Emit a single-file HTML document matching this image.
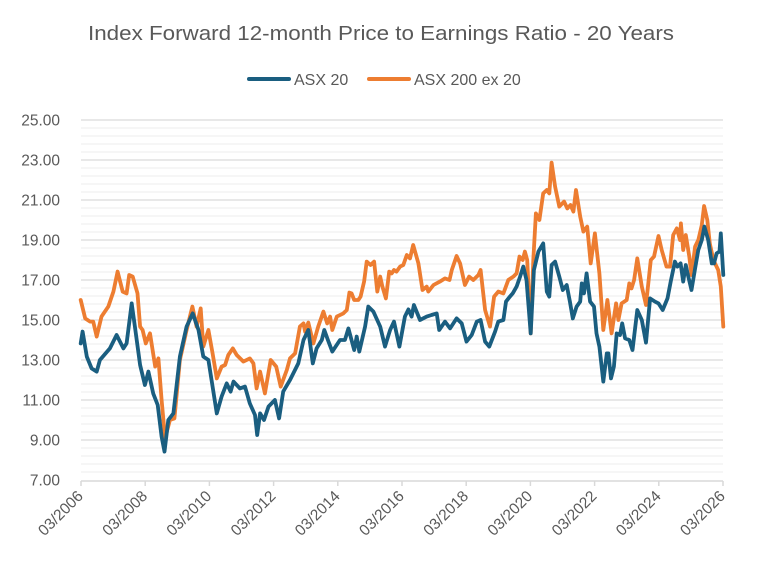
<!DOCTYPE html>
<html><head><meta charset="utf-8"><style>
html,body{margin:0;padding:0;background:#fff;width:763px;height:567px;overflow:hidden}
svg{display:block;font-family:"Liberation Sans",sans-serif}
</style></head><body>
<svg id="chart" width="763" height="567" viewBox="0 0 763 567" xmlns="http://www.w3.org/2000/svg">
<text x="381" y="40" text-anchor="middle" font-size="20.5" textLength="586" lengthAdjust="spacingAndGlyphs" fill="#595959">Index Forward 12-month Price to Earnings Ratio - 20 Years</text>
<g>
<line x1="249" y1="79" x2="289" y2="79" stroke="#1a5e80" stroke-width="4" stroke-linecap="round"/>
<text x="294" y="85" font-size="16" fill="#595959">ASX 20</text>
<line x1="369" y1="79" x2="409" y2="79" stroke="#ed7d31" stroke-width="4" stroke-linecap="round"/>
<text x="414" y="85" font-size="16" fill="#595959">ASX 200 ex 20</text>
</g>
<g id="grid"></g>
<g id="yaxis"></g>
<g id="xaxis"></g>
<g id="series"></g>
</svg>
<script>
const yTicks = [7,9,11,13,15,17,19,21,23,25];
const yTickLabels = ["7.00","9.00","11.00","13.00","15.00","17.00","19.00","21.00","23.00","25.00"];
const xTickYears = [2006.17,2008.17,2010.17,2012.17,2014.17,2016.17,2018.17,2020.17,2022.17,2024.17,2026.17];
const xTickLabels = ["03/2006","03/2008","03/2010","03/2012","03/2014","03/2016","03/2018","03/2020","03/2022","03/2024","03/2026"];

const asx20Dates = [2006.16,2006.22,2006.35,2006.50,2006.66,2006.76,2007.07,2007.28,2007.49,2007.59,2007.75,2007.85,2008.01,2008.16,2008.27,2008.42,2008.56,2008.68,2008.77,2008.89,2009.05,2009.25,2009.46,2009.65,2009.83,2009.98,2010.14,2010.40,2010.55,2010.71,2010.83,2010.92,2011.12,2011.28,2011.43,2011.59,2011.66,2011.75,2011.87,2012.01,2012.21,2012.34,2012.47,2012.68,2012.94,2013.10,2013.25,2013.39,2013.51,2013.67,2013.75,2013.88,2014.00,2014.24,2014.39,2014.50,2014.68,2014.76,2014.84,2015.02,2015.12,2015.28,2015.49,2015.64,2015.80,2015.92,2016.09,2016.26,2016.37,2016.47,2016.54,2016.73,2016.94,2017.09,2017.25,2017.33,2017.51,2017.67,2017.87,2018.03,2018.18,2018.34,2018.50,2018.62,2018.76,2018.89,2019.07,2019.17,2019.33,2019.41,2019.53,2019.62,2019.74,2019.85,2019.95,2020.05,2020.18,2020.28,2020.42,2020.57,2020.68,2020.76,2020.83,2020.94,2021.07,2021.18,2021.30,2021.40,2021.49,2021.61,2021.72,2021.77,2021.84,2021.92,2022.03,2022.15,2022.23,2022.32,2022.44,2022.55,2022.60,2022.68,2022.77,2022.86,2022.96,2023.03,2023.12,2023.25,2023.35,2023.50,2023.64,2023.77,2023.90,2024.05,2024.16,2024.29,2024.44,2024.54,2024.67,2024.75,2024.85,2024.93,2025.01,2025.09,2025.19,2025.30,2025.40,2025.51,2025.59,2025.71,2025.82,2025.89,2025.97,2026.06,2026.10,2026.18];
const asx20Values = [13.83,14.42,13.17,12.58,12.42,13.0,13.58,14.25,13.58,13.83,15.83,14.67,12.75,11.75,12.42,11.33,10.75,9.17,8.42,10.0,10.33,13.17,14.67,15.33,14.5,13.17,13.0,10.33,11.17,11.83,11.42,11.92,11.58,11.67,10.83,10.25,9.25,10.33,10.0,10.67,11.0,10.08,11.42,12.0,12.83,14.0,14.5,12.83,13.58,14.0,14.5,13.92,13.42,14.0,14.0,14.58,13.5,14.17,13.42,14.67,15.67,15.42,14.67,13.67,14.5,14.92,13.67,15.17,15.53,15.17,15.75,15.0,15.17,15.25,15.33,14.5,14.92,14.58,15.08,14.83,13.92,14.25,14.92,15.0,13.92,13.67,14.42,14.92,15.0,15.92,16.17,16.33,16.67,17.17,17.67,17.0,14.33,17.5,18.42,18.83,16.42,16.17,17.75,17.92,17.17,16.5,16.75,15.92,15.08,15.67,15.92,16.83,16.33,17.33,15.92,15.67,14.33,13.67,11.92,13.33,13.33,12.08,12.67,14.33,14.25,14.83,14.08,14.0,13.5,15.5,15.0,13.87,16.08,15.92,15.83,15.5,16.08,16.92,17.92,17.67,17.83,16.92,17.75,17.17,16.5,17.58,18.5,19.0,19.67,19.0,17.83,17.83,18.33,18.42,19.33,17.25];

const asx200ex20Dates = [2006.16,2006.30,2006.45,2006.55,2006.66,2006.81,2007.02,2007.18,2007.31,2007.47,2007.59,2007.67,2007.78,2007.93,2008.01,2008.09,2008.19,2008.32,2008.48,2008.58,2008.68,2008.79,2008.94,2009.08,2009.25,2009.46,2009.64,2009.77,2009.90,2009.98,2010.14,2010.27,2010.40,2010.55,2010.66,2010.76,2010.90,2011.02,2011.23,2011.43,2011.54,2011.64,2011.75,2011.90,2012.08,2012.25,2012.39,2012.58,2012.68,2012.84,2012.99,2013.10,2013.15,2013.25,2013.41,2013.56,2013.72,2013.84,2013.93,2014.00,2014.14,2014.34,2014.45,2014.53,2014.60,2014.68,2014.81,2014.88,2014.99,2015.07,2015.19,2015.30,2015.40,2015.49,2015.56,2015.67,2015.77,2015.85,2015.92,2016.00,2016.11,2016.21,2016.32,2016.42,2016.52,2016.68,2016.81,2016.94,2016.99,2017.15,2017.35,2017.51,2017.65,2017.72,2017.87,2017.98,2018.13,2018.26,2018.39,2018.55,2018.62,2018.76,2018.91,2019.04,2019.17,2019.33,2019.48,2019.64,2019.74,2019.83,2019.93,2020.00,2020.07,2020.18,2020.26,2020.34,2020.45,2020.57,2020.68,2020.76,2020.83,2020.94,2021.07,2021.22,2021.32,2021.42,2021.51,2021.59,2021.72,2021.82,2021.94,2022.05,2022.18,2022.32,2022.44,2022.57,2022.70,2022.84,2022.91,2023.01,2023.17,2023.25,2023.32,2023.40,2023.50,2023.64,2023.77,2023.92,2024.02,2024.16,2024.26,2024.41,2024.52,2024.62,2024.73,2024.83,2024.86,2024.93,2025.01,2025.12,2025.19,2025.30,2025.40,2025.51,2025.58,2025.68,2025.76,2025.87,2026.02,2026.10,2026.18];
const asx200ex20Values = [16.0,15.08,14.92,14.92,14.17,15.17,15.67,16.42,17.42,16.42,16.33,17.25,17.17,16.33,14.67,14.5,13.83,14.33,12.67,13.08,11.0,9.08,10.0,10.08,13.0,14.5,15.67,14.67,15.58,13.67,14.5,13.33,12.08,12.67,12.75,13.25,13.58,13.25,12.92,13.08,12.83,11.58,12.42,11.33,13.0,12.67,11.67,12.5,13.08,13.33,14.67,14.83,14.42,14.87,13.83,14.67,15.42,14.83,15.17,14.5,15.17,15.33,15.5,16.37,16.33,16.0,16.0,16.17,16.92,17.92,17.75,17.92,16.42,17.17,16.67,16.08,17.42,17.33,17.5,17.42,17.67,17.75,18.25,18.08,18.75,17.83,16.5,16.67,16.42,16.75,16.92,17.08,17.0,17.5,18.2,17.83,16.75,17.17,17.0,17.25,17.5,15.5,14.67,16.17,16.42,16.33,17.0,17.17,17.33,18.17,18.0,18.42,18.0,14.33,18.0,20.33,20.0,21.33,21.5,21.33,22.87,21.67,20.67,20.92,20.58,20.75,20.42,21.5,20.17,19.42,19.67,17.83,19.33,17.33,14.5,16.0,14.33,15.83,15.0,15.83,16.0,16.83,16.58,17.0,18.08,16.67,15.75,18.0,18.17,19.2,18.5,17.67,17.67,19.25,19.58,19.0,19.83,18.5,19.25,18.17,17.25,18.67,19.0,19.75,20.7,20.0,18.83,18.0,17.5,16.67,14.67];

const NS = "http://www.w3.org/2000/svg";
const X0 = 81, X1 = 723, Y0 = 480, Y1 = 120;
function xScale(yr){ return X0 + (yr - 2006.17) / (2026.17 - 2006.17) * (X1 - X0); }
function yScale(v){ return Y0 - (v - 7) / (25 - 7) * (Y0 - Y1); }
function mk(tag, attrs, parent){ const e = document.createElementNS(NS, tag); for (const k in attrs) e.setAttribute(k, attrs[k]); parent.appendChild(e); return e; }

const grid = document.getElementById('grid');
for (let v = 7.4; v < 25; v += 0.4) {
  if (Math.abs((v - 7) / 2 - Math.round((v - 7) / 2)) < 0.01) continue;
  const l = mk('line', {x1: X0, x2: X1, y1: yScale(v), y2: yScale(v), stroke: '#f0f0f0', 'stroke-width': 1.3}, grid);
  
  
}
const yaxis = document.getElementById('yaxis');
yTicks.forEach((v, i) => {
  if (v !== 7) {
    const l = mk('line', {x1: X0, x2: X1, y1: yScale(v), y2: yScale(v), stroke: '#d9d9d9', 'stroke-width': 1.3}, grid);
    
    
  }
  const t = mk('text', {x: 60, y: yScale(v) + 5.5, 'text-anchor': 'end', 'font-size': 15.5, fill: '#595959'}, yaxis);
  t.textContent = yTickLabels[i];
  
  
});
const xaxis = document.getElementById('xaxis');
const ax = mk('line', {x1: X0, x2: X1, y1: 481, y2: 481, stroke: '#d9d9d9', 'stroke-width': 1.5}, xaxis);


xTickYears.forEach((yr, i) => {
  const x = xScale(yr);
  const tk = mk('line', {x1: x, x2: x, y1: 481, y2: 486, stroke: '#d9d9d9', 'stroke-width': 1.5}, xaxis);
  
  
  const t = mk('text', {x: x + 3, y: 497, 'text-anchor': 'end', 'font-size': 15.5, fill: '#595959', transform: 'rotate(-45 ' + (x + 3) + ' 497)'}, xaxis);
  t.textContent = xTickLabels[i];
  
  
});
const series = document.getElementById('series');
function drawLine(dates, vals, color, name){
  const d = dates.map((yr, i) => (i ? 'L' : 'M') + xScale(yr).toFixed(1) + ' ' + yScale(vals[i]).toFixed(1)).join(' ');
  const p = mk('path', {d: d, fill: 'none', stroke: color, 'stroke-width': 3.8, 'stroke-linejoin': 'round', 'stroke-linecap': 'round'}, series);
  
  
}
drawLine(asx200ex20Dates, asx200ex20Values, '#ed7d31', 'asx200ex20-line');
drawLine(asx20Dates, asx20Values, '#1a5e80', 'asx20-line');
</script>
</body></html>
